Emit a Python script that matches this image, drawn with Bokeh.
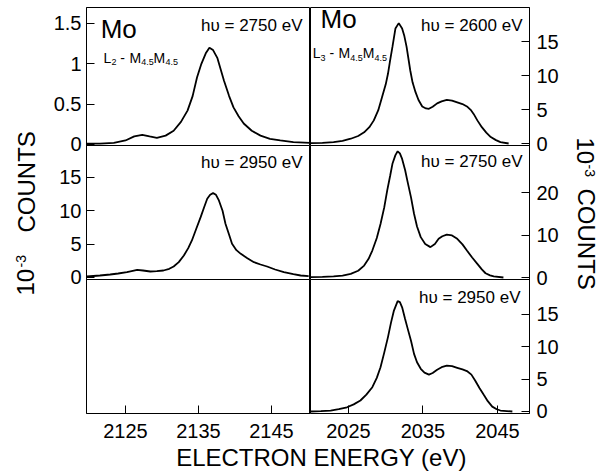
import math
from bokeh.plotting import figure
from bokeh.models import (Range1d, LinearAxis, FixedTicker, CustomJSTickFormatter,
                          Label, ColumnDataSource)
from bokeh.layouts import row, column
from bokeh.embed import file_html
from bokeh.resources import INLINE

FONT = "Liberation Sans"

# ---------------- data ----------------
# Left column: Mo L2-M4.5M4.5
tl_energy = [2119.7, 2121.5, 2123.4, 2125.0, 2126.2, 2127.3, 2128.3, 2129.3, 2130.5, 2131.6,
             2132.6, 2133.5, 2134.2, 2134.8, 2135.4, 2136.0, 2136.5, 2137.0, 2137.6, 2138.5,
             2139.2, 2139.8, 2140.5, 2141.2, 2142.3, 2143.5, 2144.8, 2146.2, 2148.0, 2150.3]
tl_counts = [0.01, 0.01, 0.02, 0.05, 0.10, 0.12, 0.10, 0.083, 0.11, 0.17,
             0.28, 0.42, 0.60, 0.83, 1.00, 1.13, 1.20, 1.17, 1.07, 0.79,
             0.60, 0.46, 0.35, 0.26, 0.17, 0.11, 0.07, 0.05, 0.03, 0.02]

ml_energy = [2119.7, 2121.5, 2122.9, 2124.0, 2125.2, 2126.0, 2126.6, 2127.4, 2128.4, 2129.3,
             2130.2, 2131.0, 2131.6, 2132.3, 2133.0, 2133.6, 2134.1, 2134.7, 2135.3, 2135.8,
             2136.2, 2136.6, 2137.0, 2137.4, 2137.8, 2138.3, 2138.7, 2139.2, 2139.6, 2140.2,
             2140.8, 2141.7, 2142.6, 2143.5, 2144.4, 2145.5, 2146.7, 2148.0, 2149.0, 2150.1]
ml_counts = [0.15, 0.3, 0.45, 0.6, 0.8, 1.0, 1.15, 1.05, 0.9, 0.95,
             1.05, 1.3, 1.65, 2.3, 3.3, 4.4, 5.55, 7.3, 9.05, 10.6,
             11.8, 12.4, 12.65, 12.4, 11.55, 10.0, 8.05, 6.4, 5.05, 4.1,
             3.55, 2.9, 2.3, 1.95, 1.65, 1.2, 0.8, 0.5, 0.3, 0.2]

# Right column: Mo L3-M4.5M4.5
tr_energy = [2019.9, 2021.5, 2023.0, 2024.2, 2025.3, 2026.3, 2027.1, 2027.8, 2028.4, 2029.0,
             2029.5, 2030.0, 2030.3, 2030.6, 2030.9, 2031.3, 2031.75, 2032.2, 2032.5, 2032.8,
             2033.3, 2033.6, 2034.0, 2034.4, 2034.9, 2035.4, 2035.8, 2036.3, 2036.9, 2037.5,
             2038.2, 2038.9, 2039.6, 2040.3, 2040.9, 2041.4, 2041.8, 2042.3, 2042.9, 2043.5,
             2044.1, 2044.8, 2045.4, 2046.5]
tr_counts = [0.05, 0.1, 0.2, 0.4, 0.7, 1.1, 1.65, 2.4, 3.4, 4.9,
             6.8, 8.7, 10.25, 12.3, 14.2, 16.9, 17.7, 16.9, 15.8, 14.2,
             10.7, 9.0, 7.55, 6.4, 5.45, 5.15, 5.1, 5.4, 5.9, 6.2,
             6.4, 6.3, 6.05, 5.8, 5.45, 4.95, 4.35, 3.4, 2.4, 1.6,
             0.95, 0.5, 0.2, 0.0]

mr_energy = [2019.9, 2021.5, 2023.0, 2024.2, 2025.3, 2026.3, 2027.1, 2027.7, 2028.2, 2028.8,
             2029.3, 2029.8, 2030.2, 2030.6, 2030.9, 2031.3, 2031.6, 2031.9, 2032.2, 2032.6,
             2032.9, 2033.4, 2033.8, 2034.2, 2034.7, 2035.3, 2036.0, 2036.6, 2037.1, 2037.6,
             2038.2, 2038.9, 2039.6, 2040.3, 2040.9, 2041.6, 2042.3, 2042.9, 2043.4, 2044.0,
             2044.5, 2045.8]
mr_counts = [0.1, 0.15, 0.25, 0.45, 0.85, 1.6, 2.8, 4.4, 6.35, 9.3,
             12.6, 16.5, 20.5, 24.0, 26.75, 28.8, 29.7, 29.2, 27.9, 25.3,
             22.8, 18.8, 15.0, 12.0, 9.5, 7.9, 7.15, 7.9, 9.1, 9.7,
             10.1, 9.9, 9.1, 7.8, 6.35, 4.7, 3.2, 1.9, 1.0, 0.5,
             0.25, 0.0]

br_energy = [2019.9, 2021.3, 2022.6, 2023.7, 2024.8, 2025.7, 2026.6, 2027.4, 2028.2, 2028.8,
             2029.3, 2029.8, 2030.3, 2030.7, 2031.1, 2031.6, 2031.9, 2032.2, 2032.6, 2032.9,
             2033.4, 2033.8, 2034.2, 2034.7, 2035.2, 2035.8, 2036.3, 2036.9, 2037.5, 2038.2,
             2038.9, 2039.6, 2040.3, 2040.9, 2041.5, 2042.0, 2042.6, 2043.2, 2043.7, 2044.3,
             2044.9, 2045.4, 2047.0]
br_counts = [0.0, 0.05, 0.15, 0.35, 0.65, 1.1, 1.7, 2.6, 3.75, 5.2,
             6.85, 9.1, 11.5, 13.7, 15.6, 17.05, 16.9, 16.1, 14.3, 13.0,
             10.9, 8.9, 7.6, 6.6, 6.0, 5.7, 5.95, 6.45, 6.85, 7.1,
             7.0, 6.75, 6.5, 6.25, 5.7, 4.8, 3.6, 2.5, 1.6, 0.75,
             0.35, 0.15, 0.0]

left_xticks = [2125, 2135, 2145]
right_xticks = [2025, 2035, 2045]
tl_yticks = [0, 0.5, 1, 1.5]
ml_yticks = [0, 5, 10, 15]
tr_yticks = [0, 5, 10, 15]
mr_yticks = [0, 10, 20]
br_yticks = [0, 5, 10, 15]

photon_labels = {"tl": "h\u03c5 = 2750 eV", "ml": "h\u03c5 = 2950 eV",
                 "tr": "h\u03c5 = 2600 eV", "mr": "h\u03c5 = 2750 eV", "br": "h\u03c5 = 2950 eV"}
x_title = "ELECTRON ENERGY (eV)"
y_title = "COUNTS"

# ---------------- helpers ----------------
BASE_SHIFT = 0.32  # em; aligns the text baseline with the anchor
OV = 12            # overlap of stacked panels (room for boundary tick labels)


def make_fig(w, h, xr, yr, left, right, top, bottom, outline=True):
    p = figure(width=w, height=h, x_range=xr, y_range=yr, output_backend="svg",
               toolbar_location=None, x_axis_location=None, y_axis_location=None,
               min_border_left=left, min_border_right=right,
               min_border_top=top, min_border_bottom=bottom)
    p.grid.visible = False
    p.outline_line_color = "black" if outline else None
    p.outline_line_width = 1
    p.background_fill_color = None
    p.border_fill_color = None
    return p


def add_axis(p, side, ticks, standoff):
    ax = LinearAxis(ticker=FixedTicker(ticks=ticks),
                    formatter=CustomJSTickFormatter(code="return tick.toString();"))
    ax.major_tick_in = 8
    ax.major_tick_out = 0
    ax.minor_tick_line_color = None
    ax.major_tick_line_color = "black"
    ax.axis_line_color = "black"
    ax.major_label_text_font = FONT
    ax.major_label_text_font_size = "20px"
    ax.major_label_text_color = "black"
    ax.major_label_standoff = standoff
    p.add_layout(ax, side)


def add_text(p, x, y, text, size, align="left", dx=0, dy=0, rot=0):
    s = BASE_SHIFT * size
    if rot == 0:
        dy += s
        angle = 0.0
    elif rot > 0:  # reads upward
        dx -= s
        angle = math.pi / 2
    else:          # reads downward
        dx += s
        angle = -math.pi / 2
    p.add_layout(Label(x=x, y=y, text=text, x_offset=dx, y_offset=dy, angle=angle,
                       text_font=FONT, text_font_size=f"{size}px", text_color="black",
                       text_align=align, text_baseline="alphabetic"))


def add_transition(p, x, y, core):
    pieces = [("L", 0, 0, 14), (core, 7.8, -3, 9), ("-", 16.7, 0, 14),
              ("M", 25.8, 0, 14), ("4.5", 37.6, -3, 9),
              ("M", 50.0, 0, 14), ("4.5", 61.8, -3, 9)]
    for t, dx, dy, s in pieces:
        add_text(p, x, y, t, s, dx=dx, dy=dy)


def curve(p, xs, ys):
    src = ColumnDataSource(dict(x=xs, y=ys))
    p.line("x", "y", source=src, line_color="black", line_width=1.8)


LX = (2119.66, 2150.35)
RX = (2019.9, 2049.3)

# ---------------- left column ----------------
TL = make_fig(270, 145 + OV, Range1d(*LX), Range1d(-0.0124, 1.698), 46, 0, 7, OV)
ML = make_fig(270, 134 + OV, Range1d(*LX), Range1d(-0.3, 19.79), 46, 0, 0, OV)
BL = make_fig(270, 168, Range1d(*LX), Range1d(0, 1), 46, 0, 0, 34)
ML.margin = (-OV, 0, 0, 0)
BL.margin = (-OV, 0, 0, 0)

add_axis(TL, "left", tl_yticks, 5)
add_axis(ML, "left", ml_yticks, 5)
add_axis(BL, "below", left_xticks, 10)
curve(TL, tl_energy, tl_counts)
curve(ML, ml_energy, ml_counts)

add_text(TL, 2121.6, 1.326, "Mo", 26)
add_text(TL, 2149.25, 1.413, photon_labels["tl"], 17, align="right")
add_transition(TL, 2122.0, 1.02, "2")
add_text(ML, 2149.25, 16.5, photon_labels["ml"], 17, align="right")

# ---------------- right column ----------------
TR = make_fig(259, 145 + OV, Range1d(*RX), Range1d(-0.294, 20.0), 0, 40, 7, OV)
MR = make_fig(259, 134 + OV, Range1d(*RX), Range1d(-0.47, 31.06), 0, 40, 0, OV)
BR = make_fig(259, 168, Range1d(*RX), Range1d(-0.31, 20.4), 0, 40, 0, 34)
MR.margin = (-OV, 0, 0, 0)
BR.margin = (-OV, 0, 0, 0)

add_axis(TR, "right", tr_yticks, 7)
add_axis(MR, "right", mr_yticks, 7)
add_axis(BR, "right", br_yticks, 7)
add_axis(BR, "below", right_xticks, 10)
curve(TR, tr_energy, tr_counts)
curve(MR, mr_energy, mr_counts)
curve(BR, br_energy, br_counts)

add_text(TR, 2021.24, 17.06, "Mo", 26)
add_text(TR, 2048.36, 16.6, photon_labels["tr"], 17, align="right")
add_transition(TR, 2020.2, 12.6, "3")
add_text(MR, 2048.36, 25.9, photon_labels["mr"], 17, align="right")
add_text(BR, 2048.09, 16.85, photon_labels["br"], 17, align="right")

# ---------------- axis titles ----------------
LAB_H = 447
labL = make_fig(40, LAB_H, Range1d(0, 40), Range1d(0, LAB_H), 0, 0, 0, 0, outline=False)
add_text(labL, 33, 152, "10", 24, rot=1)
add_text(labL, 25, 180, "-3", 14, rot=1)
add_text(labL, 34, 215, y_title, 24, rot=1)

labR = make_fig(40, LAB_H, Range1d(0, 40), Range1d(0, LAB_H), 0, 0, 0, 0, outline=False)
add_text(labR, 8, 310, "10", 24, rot=-1)
add_text(labR, 16, 283, "-3", 14, rot=-1)
add_text(labR, 9, 259, y_title, 24, rot=-1)

titleF = make_fig(609, 34, Range1d(0, 609), Range1d(0, 34), 0, 0, 0, 0, outline=False)
titleF.margin = (-6, 0, 0, 0)
add_text(titleF, 321, 10, x_title, 24, align="center")

layout = column(row(labL, column(TL, ML, BL), column(TR, MR, BR), labR), titleF)

open("out.html", "w").write(file_html(layout, INLINE))
